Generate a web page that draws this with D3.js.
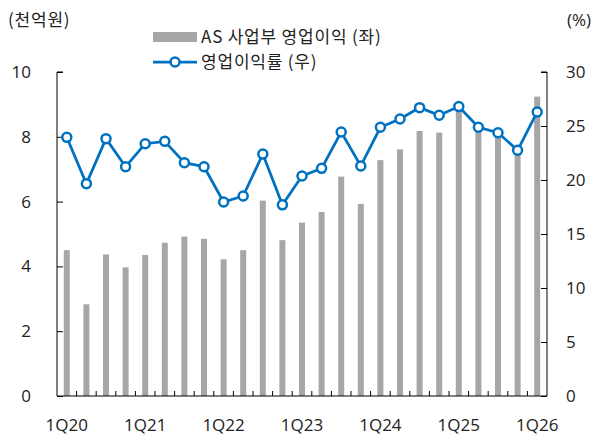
<!DOCTYPE html>
<html>
<head>
<meta charset="utf-8">
<script src="https://cdn.jsdelivr.net/npm/d3@7"></script>
<style>
  body { margin: 0; background: #fff; }
  text { fill: #222; }
  .num { font-family: "Open Sans", "Noto Sans", sans-serif; font-size: 17px; }
  .kr { font-family: "Noto Sans CJK KR", "Noto Sans", sans-serif; font-size: 17px; letter-spacing: 0.8px; }
</style>
</head>
<body>
<div id="chart"></div>
<script>
// quarters 1Q20 .. 1Q26
const quarters = ["1Q20","2Q20","3Q20","4Q20","1Q21","2Q21","3Q21","4Q21",
  "1Q22","2Q22","3Q22","4Q22","1Q23","2Q23","3Q23","4Q23",
  "1Q24","2Q24","3Q24","4Q24","1Q25","2Q25","3Q25","4Q25","1Q26"];

// AS 사업부 영업이익 (천억원, 좌)
const profit = [4.5, 2.83, 4.37, 3.97, 4.35, 4.73, 4.92, 4.85,
  4.22, 4.5, 6.03, 4.81, 5.35, 5.68, 6.77, 5.93,
  7.28, 7.61, 8.18, 8.13, 8.85, 8.26, 8.06, 7.5, 9.24];

// 영업이익률 (%, 우)
const margin = [23.95, 19.66, 23.83, 21.23, 23.36, 23.58, 21.6, 21.23,
  17.96, 18.52, 22.4, 17.7, 20.37, 21.08, 24.44, 21.3,
  24.88, 25.65, 26.7, 26.0, 26.8, 24.88, 24.38, 22.75, 26.3];

const leftTicks = [0, 2, 4, 6, 8, 10];
const rightTicks = [0, 5, 10, 15, 20, 25, 30];
const xLabels = ["1Q20", "1Q21", "1Q22", "1Q23", "1Q24", "1Q25", "1Q26"];

const width = 594, height = 439;
const plot = { left: 57, right: 547, top: 72, bottom: 396 };

const svg = d3.select("#chart").append("svg")
  .attr("width", width)
  .attr("height", height);

const x = d3.scaleBand()
  .domain(quarters)
  .range([plot.left, plot.right]);

const yL = d3.scaleLinear().domain([0, 10]).range([plot.bottom, plot.top]);
const yR = d3.scaleLinear().domain([0, 30]).range([plot.bottom, plot.top]);

const barW = 6;
const cx = d => x(d) + x.bandwidth() / 2;

// bars
svg.append("g")
  .selectAll("rect")
  .data(quarters)
  .enter()
  .append("rect")
  .attr("x", d => cx(d) - barW / 2)
  .attr("y", (d, i) => yL(profit[i]))
  .attr("width", barW)
  .attr("height", (d, i) => yL(0) - yL(profit[i]))
  .attr("fill", "#a6a6a6");

// axes
const axisColor = "#000";
const leftAxis = svg.append("g")
  .attr("transform", `translate(${plot.left},0)`)
  .call(d3.axisRight(yL).tickValues(leftTicks).tickSize(6).tickFormat(""));
leftAxis.select(".domain").attr("d", `M6,${plot.top}H0V${plot.bottom}`);

const rightAxis = svg.append("g")
  .attr("transform", `translate(${plot.right},0)`)
  .call(d3.axisLeft(yR).tickValues(rightTicks).tickSize(6).tickFormat(""));
rightAxis.select(".domain").attr("d", `M-6,${plot.top}H0V${plot.bottom}`);

// x axis with ticks between bars
const bottomAxis = svg.append("g")
  .attr("transform", `translate(0,${plot.bottom})`);
bottomAxis.append("line")
  .attr("x1", plot.left).attr("x2", plot.right)
  .attr("stroke", axisColor);
bottomAxis.selectAll(".qtick")
  .data(quarters.slice(1))
  .enter()
  .append("line")
  .attr("x1", d => x(d)).attr("x2", d => x(d))
  .attr("y1", 0).attr("y2", -5)
  .attr("stroke", axisColor);

svg.selectAll(".domain, .tick line").attr("stroke", axisColor);

// tick labels
svg.append("g")
  .selectAll("text")
  .data(leftTicks)
  .enter()
  .append("text")
  .attr("class", "num")
  .attr("x", 31)
  .attr("y", d => yL(d))
  .attr("dy", "0.35em")
  .attr("text-anchor", "end")
  .text(d => d);

svg.append("g")
  .selectAll("text")
  .data(rightTicks)
  .enter()
  .append("text")
  .attr("class", "num")
  .attr("x", 566)
  .attr("y", d => yR(d))
  .attr("dy", "0.35em")
  .attr("text-anchor", "start")
  .text(d => d);

svg.append("g")
  .selectAll("text")
  .data(xLabels)
  .enter()
  .append("text")
  .attr("class", "num")
  .attr("x", d => cx(d))
  .attr("y", 425)
  .attr("dy", "0.35em")
  .attr("text-anchor", "middle")
  .text(d => d);

// unit labels
svg.append("text")
  .attr("class", "kr")
  .attr("x", 8).attr("y", 20).attr("dy", "0.35em")
  .text("(천억원)");
svg.append("text")
  .attr("class", "num")
  .attr("x", 591).attr("y", 20).attr("dy", "0.35em")
  .attr("text-anchor", "end")
  .text("(%)");

// margin line
const line = d3.line()
  .x((d, i) => cx(quarters[i]))
  .y(d => yR(d));

svg.append("path")
  .datum(margin)
  .attr("d", line)
  .attr("fill", "none")
  .attr("stroke", "#0070c0")
  .attr("stroke-width", 2.75);

svg.append("g")
  .selectAll("circle")
  .data(margin)
  .enter()
  .append("circle")
  .attr("cx", (d, i) => cx(quarters[i]))
  .attr("cy", d => yR(d))
  .attr("r", 4.5)
  .attr("fill", "#fff")
  .attr("stroke", "#0070c0")
  .attr("stroke-width", 2.5);

// legend
const legend = svg.append("g");
legend.append("rect")
  .attr("x", 153).attr("y", 32)
  .attr("width", 44).attr("height", 10)
  .attr("fill", "#a6a6a6");
legend.append("text")
  .attr("class", "kr")
  .attr("x", 201).attr("y", 37).attr("dy", "0.35em")
  .text("AS 사업부 영업이익 (좌)");
legend.append("line")
  .attr("x1", 153).attr("x2", 197)
  .attr("y1", 62).attr("y2", 62)
  .attr("stroke", "#0070c0").attr("stroke-width", 2.75);
legend.append("circle")
  .attr("cx", 175).attr("cy", 62).attr("r", 4.5)
  .attr("fill", "#fff")
  .attr("stroke", "#0070c0").attr("stroke-width", 2.5);
legend.append("text")
  .attr("class", "kr")
  .attr("x", 201).attr("y", 62).attr("dy", "0.35em")
  .text("영업이익률 (우)");
</script>
</body>
</html>
